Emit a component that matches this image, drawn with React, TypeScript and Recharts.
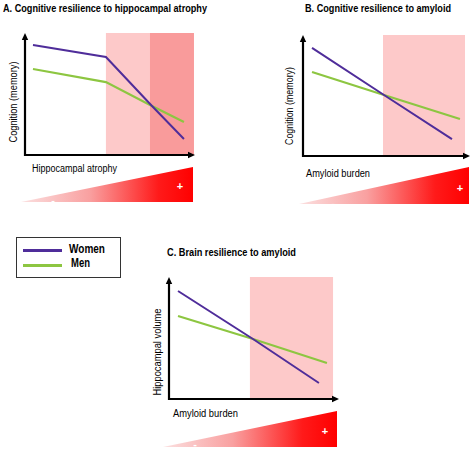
import { LineChart, Line, XAxis, YAxis, ReferenceArea, ReferenceLine, AreaChart, Area } from "recharts";

const WOMEN = "#4f2d9a";
const MEN = "#8dc641";
const LIGHT = "#fdc9c9";
const DARK = "#f99b9b";
const FONT = "'Liberation Sans', Arial, sans-serif";
const NARROW = 0.82; // the source uses a condensed face; squeeze a regular one

// panel A: cognition vs hippocampal atrophy
const aWomenX = [4.7, 47.6, 74.7, 93.5];
const aWomenY = [90.2, 80.3, 40.2, 13.1];
const aMenX = [4.7, 47.6, 74.7, 93.5];
const aMenY = [70.5, 59.8, 40.2, 27.0];

// panel B: cognition vs amyloid
const bWomenX = [5.4, 48.5, 89.2];
const bWomenY = [89.3, 50.4, 14.0];
const bMenX = [5.4, 48.5, 94.0];
const bMenY = [69.4, 50.4, 30.6];

// panel C: hippocampal volume vs amyloid
const cWomenX = [5.3, 49.4, 88.2];
const cWomenY = [88.5, 49.2, 13.1];
const cMenX = [5.3, 49.4, 92.9];
const cMenY = [68.0, 49.2, 29.5];

// the red "burden" wedge under each x axis
const rampX = [0, 100];
const rampY = [0, 100];

const rows = (xs: number[], ys: number[]) => xs.map((x, i) => ({ x, y: ys[i] }));

function Arrow(props: any) {
  const { x1, y1, x2, y2 } = props;
  const ang = Math.atan2(y2 - y1, x2 - x1);
  const len = 7;
  const half = 3.2;
  const bx = x2 - len * Math.cos(ang);
  const by = y2 - len * Math.sin(ang);
  const px = -Math.sin(ang) * half;
  const py = Math.cos(ang) * half;
  // pull the start back a touch so the two axes meet cleanly at the corner
  const sx = x1 - Math.cos(ang) * 1;
  const sy = y1 - Math.sin(ang) * 1;
  return (
    <g>
      <line x1={sx} y1={sy} x2={bx} y2={by} stroke="#000" strokeWidth={2.2} />
      <polygon points={`${x2},${y2} ${bx + px},${by + py} ${bx - px},${by - py}`} fill="#000" />
    </g>
  );
}

type Shade = { from: number; to: number; color: string };

function Panel(p: {
  left: number; top: number; width: number; height: number;
  shades: Shade[];
  women: { x: number; y: number }[];
  men: { x: number; y: number }[];
}) {
  const m = 6;
  return (
    <div style={{ position: "absolute", left: p.left - m, top: p.top - m }}>
      <LineChart width={p.width + 2 * m} height={p.height + 2 * m} margin={{ top: m, right: m, bottom: m, left: m }}>
        <XAxis type="number" dataKey="x" domain={[0, 100]} hide allowDataOverflow />
        <YAxis type="number" dataKey="y" domain={[0, 100]} hide allowDataOverflow />
        {p.shades.map((s, i) => (
          <ReferenceArea key={i} x1={s.from} x2={s.to} y1={0} y2={100} fill={s.color} fillOpacity={1} stroke="none" ifOverflow="visible" />
        ))}
        <Line data={p.men} dataKey="y" type="linear" stroke={MEN} strokeWidth={2.2} dot={false} isAnimationActive={false} />
        <Line data={p.women} dataKey="y" type="linear" stroke={WOMEN} strokeWidth={2} dot={false} isAnimationActive={false} />
        <ReferenceLine segment={[{ x: 0, y: 0 }, { x: 0, y: 100 }]} shape={Arrow} ifOverflow="visible" />
        <ReferenceLine segment={[{ x: 0, y: 0 }, { x: 100, y: 0 }]} shape={Arrow} ifOverflow="visible" />
      </LineChart>
    </div>
  );
}

function Ramp(p: { id: string; left: number; top: number; width: number; height: number }) {
  const data = rows(rampX, rampY);
  return (
    <div style={{ position: "absolute", left: p.left, top: p.top }}>
      <AreaChart width={p.width} height={p.height} data={data} margin={{ top: 0, right: 0, bottom: 0, left: 0 }}>
        <defs>
          <linearGradient id={p.id} x1="0" y1="0" x2="1" y2="0">
            <stop offset="0%" stopColor="#fbe0e0" />
            <stop offset="40%" stopColor="#f9a0a0" />
            <stop offset="80%" stopColor="#ff1a1a" />
            <stop offset="100%" stopColor="#ff0000" />
          </linearGradient>
        </defs>
        <XAxis type="number" dataKey="x" domain={[0, 100]} hide />
        <YAxis type="number" domain={[0, 100]} hide />
        <Area dataKey="y" type="linear" stroke="none" fill={`url(#${p.id})`} fillOpacity={1} isAnimationActive={false} />
      </AreaChart>
    </div>
  );
}

export default function App() {
  const t = (x: number, y: number, s: string, w: number, bold = false, size = 11) => (
    <text transform={`translate(${x} ${y}) scale(${NARROW} 1)`} fontFamily={FONT} fontSize={size}
      fontWeight={bold ? 700 : 400} fill="#000" dominantBaseline="central"
      textLength={w / NARROW} lengthAdjust="spacingAndGlyphs">{s}</text>
  );
  const vt = (cx: number, cy: number, s: string, w: number) => (
    <text transform={`translate(${cx} ${cy}) rotate(-90) scale(${NARROW} 1)`} fontFamily={FONT} fontSize={11} fill="#000"
      textAnchor="middle" dominantBaseline="central" textLength={w / NARROW} lengthAdjust="spacingAndGlyphs">{s}</text>
  );
  const sign = (x: number, y: number, s: string) => (
    <text x={x} y={y} fontFamily={FONT} fontSize={11} fontWeight={700} fill="#fff"
      textAnchor="middle" dominantBaseline="central">{s}</text>
  );
  return (
    <div style={{ position: "absolute", left: 0, top: 0, width: 474, height: 449, background: "#fff", overflow: "hidden" }}>
      <Panel left={25} top={33} width={170} height={122}
        shades={[{ from: 47.6, to: 73.5, color: LIGHT }, { from: 73.5, to: 99.4, color: DARK }]}
        women={rows(aWomenX, aWomenY)} men={rows(aMenX, aMenY)} />
      <Panel left={303} top={35} width={167} height={121}
        shades={[{ from: 47.9, to: 97.0, color: LIGHT }]}
        women={rows(bWomenX, bWomenY)} men={rows(bMenX, bMenY)} />
      <Panel left={169} top={277} width={170} height={122}
        shades={[{ from: 47.6, to: 96.5, color: LIGHT }]}
        women={rows(cWomenX, cWomenY)} men={rows(cMenX, cMenY)} />

      <Ramp id="rampA" left={21} top={167} width={172} height={35} />
      <Ramp id="rampB" left={299} top={167} width={170} height={37} />
      <Ramp id="rampC" left={163} top={411} width={174} height={36} />

      <div style={{ position: "absolute", left: 16, top: 237, width: 105, height: 41, border: "1px solid #333", boxSizing: "border-box" }}>
        <div style={{ position: "absolute", left: 6, top: 10.5, width: 39, height: 3, background: WOMEN }} />
        <div style={{ position: "absolute", left: 6, top: 25.5, width: 39, height: 3, background: MEN }} />
      </div>

      <svg width={474} height={449} style={{ position: "absolute", left: 0, top: 0, pointerEvents: "none" }}>
        {t(3, 8, "A. Cognitive resilience to hippocampal atrophy", 204, true)}
        {t(305, 8, "B. Cognitive resilience to amyloid", 146, true)}
        {t(167, 252, "C. Brain resilience to amyloid", 129, true)}
        {vt(13, 102, "Cognition (memory)", 81)}
        {vt(289, 106, "Cognition (memory)", 78)}
        {vt(157, 352, "Hippocampal volume", 87)}
        {t(32, 168, "Hippocampal atrophy", 85)}
        {t(306, 173, "Amyloid burden", 64)}
        {t(173, 413, "Amyloid burden", 65)}
        {t(69, 249, "Women", 36, true, 12)}
        {t(71, 263, "Men", 19, true, 12)}
        {sign(180, 186, "+")}
        {sign(53, 200, "-")}
        {sign(460, 188, "+")}
        {sign(333, 203, "-")}
        {sign(325, 431, "+")}
        {sign(195, 444, "-")}
      </svg>
    </div>
  );
}
